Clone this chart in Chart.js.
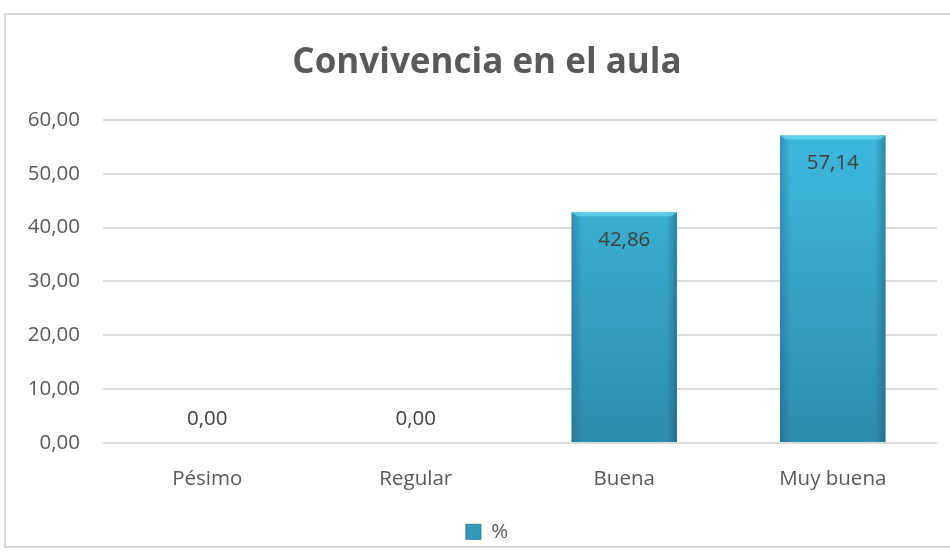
<!DOCTYPE html>
<html>
<head>
<meta charset="utf-8">
<script src="https://cdn.jsdelivr.net/npm/chart.js@4/dist/chart.umd.min.js"></script>
<style>
  html, body { margin: 0; padding: 0; background: #ffffff; overflow: hidden; }
  #wrap { position: relative; width: 950px; height: 555px; overflow: hidden; }
  #frame { position: absolute; left: 4px; top: 13px; width: 960px; height: 535px; border: 2px solid #d9d9d9; box-sizing: border-box; }
  canvas { position: absolute; left: 0; top: 0; }
</style>
</head>
<body>
<div id="wrap">
  <div id="frame"></div>
  <canvas id="c" width="974" height="555"></canvas>
</div>
<script>
const categories = ["Pésimo", "Regular", "Buena", "Muy buena"];
const seriesName = "%";
const values = [0.00, 0.00, 42.86, 57.14];
const yTicks = [0, 10, 20, 30, 40, 50, 60];

const fmt = v => v.toFixed(2).replace('.', ',');
const FONT = "'Open Sans', 'Liberation Sans', sans-serif";
const LBL = 20.5;

const valueLabels = {
  id: 'valueLabels',
  afterDatasetsDraw(chart) {
    const ctx = chart.ctx;
    const meta = chart.getDatasetMeta(0);
    ctx.save();
    ctx.font = LBL + "px " + FONT;
    ctx.fillStyle = "#404040";
    ctx.textAlign = "center";
    ctx.textBaseline = "middle";
    meta.data.forEach((bar, i) => {
      const v = chart.data.datasets[0].data[i];
      const y = v > 0 ? bar.y + 28 : bar.y - 24;
      ctx.fillText(fmt(v), bar.x, y);
    });
    ctx.restore();
  }
};

const barShade = {
  id: 'barShade',
  afterDatasetsDraw(chart) {
    const ctx = chart.ctx;
    const meta = chart.getDatasetMeta(0);
    ctx.save();
    meta.data.forEach((bar) => {
      const h = bar.base - bar.y;
      if (h <= 1) return;
      const left = bar.x - bar.width / 2, w = bar.width;
      const g = ctx.createLinearGradient(left, 0, left + w, 0);
      g.addColorStop(0, 'rgba(20,70,95,0.30)');
      g.addColorStop(0.1, 'rgba(20,70,95,0.0)');
      g.addColorStop(0.9, 'rgba(20,70,95,0.0)');
      g.addColorStop(1, 'rgba(20,70,95,0.40)');
      ctx.fillStyle = g;
      ctx.fillRect(left, bar.y, w, h);
      ctx.fillStyle = 'rgba(110,220,240,0.7)';
      ctx.beginPath();
      ctx.moveTo(left, bar.y);
      ctx.lineTo(left + w, bar.y);
      ctx.lineTo(left + w - 6, bar.y + 4);
      ctx.lineTo(left + 6, bar.y + 4);
      ctx.closePath();
      ctx.fill();
    });
    ctx.restore();
  }
};

new Chart(document.getElementById('c'), {
  type: 'bar',
  data: {
    labels: categories,
    datasets: [{
      label: seriesName,
      data: values,
      yAxisID: 'y',
      backgroundColor: (context) => {
        const ca = context.chart.chartArea;
        if (!ca) return '#36A8CC';
        const g = context.chart.ctx.createLinearGradient(0, ca.top, 0, ca.bottom);
        g.addColorStop(0, '#3DBADE');
        g.addColorStop(1, '#2D8DAC');
        return g;
      },
      borderWidth: 0,
      barPercentage: 0.506,
      categoryPercentage: 1.0
    }]
  },
  options: {
    responsive: false,
    animation: false,
    devicePixelRatio: 1,
    layout: { padding: { left: 0, right: 0, top: 0, bottom: 3 } },
    plugins: {
      title: {
        display: true,
        text: "Convivencia en el aula",
        color: "#595959",
        font: { family: FONT, size: 35, weight: 'bold' },
        padding: { top: 42, bottom: 36 }
      },
      legend: {
        display: true,
        position: 'bottom',
        labels: {
          color: "#595959",
          font: { family: FONT, size: LBL },
          boxWidth: 15,
          boxHeight: 15,
          padding: 6,
          generateLabels: (chart) => [{
            text: seriesName, fillStyle: '#3399B8', strokeStyle: '#2A7E9C', lineWidth: 1,
            hidden: false, datasetIndex: 0, fontColor: '#595959'
          }]
        }
      },
      tooltip: { enabled: false }
    },
    scales: {
      x: {
        grid: { display: false, drawTicks: false },
        border: { display: false },
        ticks: { color: "#595959", font: { family: FONT, size: LBL }, padding: 24 }
      },
      y: {
        position: 'left',
        min: 0, max: 60,
        afterBuildTicks: (scale) => { scale.ticks = yTicks.map(v => ({ value: v })); },
        afterFit: (scale) => { scale.width = 103; },
        grid: { color: '#dcdcdc', lineWidth: 2, drawTicks: false },
        border: { display: false },
        ticks: {
          color: "#595959",
          font: { family: FONT, size: LBL },
          padding: 23,
          callback: (v) => fmt(v)
        }
      },
      y2: {
        position: 'right',
        min: 0, max: 60,
        afterFit: (scale) => { scale.width = 37; },
        grid: { display: false, drawTicks: false },
        border: { display: false },
        ticks: { display: false }
      }
    }
  },
  plugins: [barShade, valueLabels]
});
</script>
</body>
</html>
